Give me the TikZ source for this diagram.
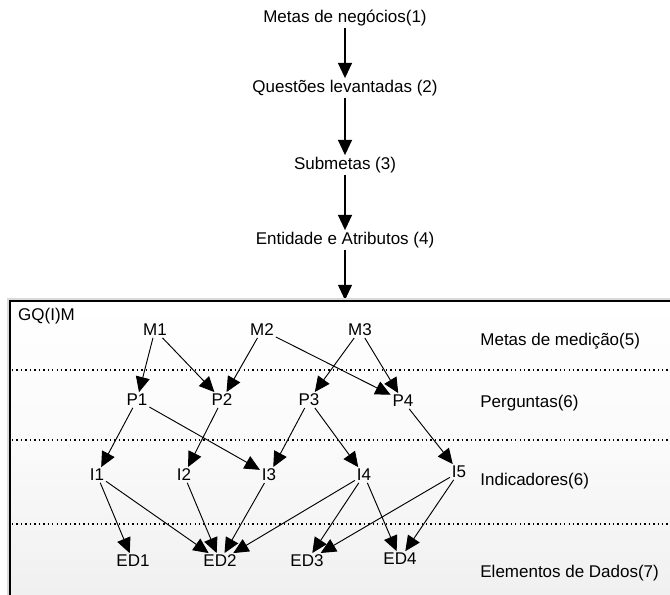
\documentclass[tikz,border=0pt]{standalone}
\usepackage{fontspec}
\setmainfont{Liberation Sans}
\usetikzlibrary{arrows.meta}
\begin{document}
\begin{tikzpicture}[x=0.03cm,y=-0.03cm,
  font=\fontsize{14.5}{17}\selectfont,
  lbl/.style={inner sep=1.5pt},
  band/.style={anchor=west,inner sep=1pt},
  arr/.style={-{Triangle[length=13pt,width=12pt]},line width=1pt},
  sep/.style={dash pattern=on 1.2pt off 2.6pt,line width=1pt}]
\clip (0,0) rectangle (670,595);
\fill[white] (0,0) rectangle (670,595);
% upper chain
\node[lbl] (neg) at (345,18) {Metas de negócios(1)};
\node[lbl] (que) at (345,88) {Questões levantadas (2)};
\node[lbl] (sub) at (345,165) {Submetas (3)};
\node[lbl] (ent) at (345,240) {Entidade e Atributos (4)};
\coordinate (top) at (345,300);
\draw[arr] (neg) -- (que);
\draw[arr] (que) -- (sub);
\draw[arr] (sub) -- (ent);
\draw[arr] (ent) -- (top);
% GQ(I)M frame
\fill[gray!30] (7,298) rectangle (680,600);
\shade[top color=white,bottom color=gray!12,middle color=gray!4] (10,301) rectangle (680,600);
\draw[line width=1pt] (10,301) rectangle (680,600);
\node[anchor=west,inner sep=0pt] (gqm) at (18,316) {GQ(I)M};
\draw[sep] (12,370) -- (670,370);
\draw[sep] (12,440) -- (670,440);
\draw[sep] (12,524) -- (670,524);
\node[band] (bm) at (479,341) {Metas de medição(5)};
\node[band] (bp) at (479,403) {Perguntas(6)};
\node[band] (bi) at (479,481) {Indicadores(6)};
\node[band] (be) at (479,573) {Elementos de Dados(7)};
% nodes
\node[lbl] (m1) at (155,330) {M1};
\node[lbl] (m2) at (262,330) {M2};
\node[lbl] (m3) at (360,330) {M3};
\node[lbl] (p1) at (137,400) {P1};
\node[lbl] (p2) at (222,400) {P2};
\node[lbl] (p3) at (309,400) {P3};
\node[lbl] (p4) at (403,401) {P4};
\node[lbl] (i1) at (97,475) {I1};
\node[lbl] (i2) at (184,475) {I2};
\node[lbl] (i3) at (269,475) {I3};
\node[lbl] (i4) at (364,475) {I4};
\node[lbl] (i5) at (459,472) {I5};
\node[lbl] (e1) at (133,561) {ED1};
\node[lbl] (e2) at (220,561) {ED2};
\node[lbl] (e3) at (307,561) {ED3};
\node[lbl] (e4) at (400,559) {ED4};
% links
\foreach \a/\b in {m1/p1,m1/p2,m2/p2,m2/p4,m3/p3,m3/p4,
  p1/i1,p1/i3,p2/i2,p3/i3,p3/i4,p4/i5,
  i1/e1,i1/e2,i2/e2,i3/e2,i4/e2,i4/e3,i4/e4,i5/e3,i5/e4}
  \draw[arr,line width=0.8pt] (\a) -- (\b);
\end{tikzpicture}
\end{document}
